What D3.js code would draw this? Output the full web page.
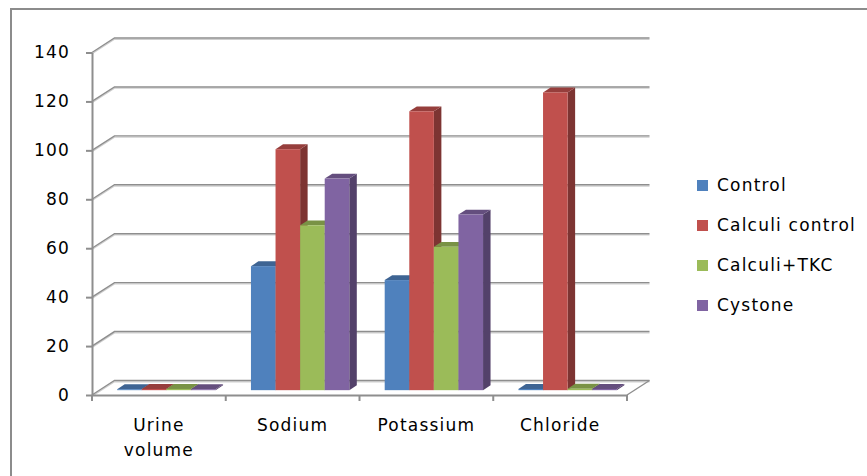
<!DOCTYPE html>
<html>
<head>
<meta charset="utf-8">
<script src="https://cdn.jsdelivr.net/npm/d3@7"></script>
<style>
  html, body { margin: 0; padding: 0; background: #fff; }
  svg text { font-family: "DejaVu Sans", Verdana, sans-serif; fill: #000; }
</style>
</head>
<body>
<svg id="chart" width="867" height="476"></svg>
<script>
// Urinary electrolytes by treatment group
const categories = ["Urine volume", "Sodium", "Potassium", "Chloride"];
const seriesNames = ["Control", "Calculi control", "Calculi+TKC", "Cystone"];
const control        = [0.4, 50.7, 45.0, 0.5];
const calculiControl = [0.5, 98.5, 114.0, 121.7];
const calculiTKC     = [0.5, 67.4, 58.6, 0.6];
const cystone        = [0.4, 86.5, 71.8, 0.5];
const yTicks = [0, 20, 40, 60, 80, 100, 120, 140];
const colors = ["#4F81BD", "#C0504D", "#9BBB59", "#8064A2"];

const seriesValues = [control, calculiControl, calculiTKC, cystone];

const svg = d3.select("#chart");

// oblique depth of the plot box
const depth = { dx: 22.5, dy: -14.5 };

const x = d3.scaleBand().domain(categories).range([92, 627]).padding(0);
const y = d3.scaleLinear().domain([0, 140]).range([395, 52.5]);
const inner = d3.scaleBand().domain(seriesNames)
  .range([0, x.bandwidth()]).paddingOuter(0.72).paddingInner(0);

// outer frame (left and top edges)
svg.append("path")
  .attr("d", "M11,476 L11,9 L867,9")
  .attr("fill", "none").attr("stroke", "#8c8c8c").attr("stroke-width", 2);

// gridlines: side-wall diagonal then back wall
const grid = svg.append("g");
yTicks.forEach(t => {
  const y0 = y(t);
  const d = `M${x.range()[0]},${y0} L${x.range()[0] + depth.dx},${y0 + depth.dy} L${x.range()[1] + depth.dx},${y0 + depth.dy}`;
  grid.append("path").attr("d", d).attr("transform", "translate(0,1.3)")
    .attr("fill", "none").attr("stroke", "#cfcfcf").attr("stroke-width", 1.2);
  grid.append("path").attr("d", d)
    .attr("fill", "none").attr("stroke", "#8e8e8e").attr("stroke-width", 1.4);
});
// right edge of floor
grid.append("path")
  .attr("d", `M${x.range()[1]},${y(0)} L${x.range()[1] + depth.dx},${y(0) + depth.dy}`)
  .attr("fill", "none").attr("stroke", "#8e8e8e").attr("stroke-width", 1.4);

// bars: placed in the middle third of the depth
const f0 = { dx: depth.dx / 3, dy: depth.dy / 3 };
const bars = svg.append("g");
categories.forEach((cat, ci) => {
  seriesNames.forEach((s, si) => {
    const v = seriesValues[si][ci];
    const c = d3.color(colors[si]);
    const x0 = x(cat) + inner(s) + f0.dx;
    const x1 = x0 + inner.bandwidth();
    const yb = y(0) + f0.dy;
    const yt = y(v) + f0.dy;
    const ox = f0.dx, oy = f0.dy;
    // side face
    bars.append("path")
      .attr("d", `M${x1},${yt} L${x1 + ox},${yt + oy} L${x1 + ox},${yb + oy} L${x1},${yb} Z`)
      .attr("fill", c.darker(1.2).formatHex());
    // top face
    bars.append("path")
      .attr("d", `M${x0},${yt} L${x0 + ox},${yt + oy} L${x1 + ox},${yt + oy} L${x1},${yt} Z`)
      .attr("fill", c.darker(0.7).formatHex());
    // front face
    bars.append("rect")
      .attr("x", x0).attr("y", yt)
      .attr("width", inner.bandwidth()).attr("height", Math.max(0, yb - yt))
      .attr("fill", c.formatHex());
  });
});

// y axis
const yAxis = svg.append("g")
  .attr("transform", `translate(${x.range()[0]},0)`)
  .call(d3.axisLeft(y).tickValues(yTicks).tickSize(6).tickPadding(16).tickSizeOuter(0));
yAxis.select(".domain").attr("stroke", "#8e8e8e").attr("stroke-width", 2);
yAxis.selectAll(".tick line").attr("stroke", "#8e8e8e").attr("stroke-width", 2);
yAxis.selectAll(".tick text")
  .style("font-size", "17px").style("letter-spacing", "1.2px")
  .attr("fill", "#000");

// x axis (front edge of floor)
const xAxis = svg.append("g")
  .attr("transform", `translate(0,${y(0)})`)
  .call(d3.axisBottom(x).tickSize(0).tickFormat(""));
xAxis.select(".domain").attr("stroke", "#8e8e8e").attr("stroke-width", 2);
const xTickPos = categories.map(c => x(c)).concat([x.range()[1]]);
xAxis.selectAll(".catTick").data(xTickPos).join("line")
  .attr("x1", d => d).attr("x2", d => d).attr("y1", 0).attr("y2", 6)
  .attr("stroke", "#8e8e8e").attr("stroke-width", 2);

// category labels (wrapped)
const labels = {
  "Urine volume": ["Urine", "volume"],
  "Sodium": ["Sodium"],
  "Potassium": ["Potassium"],
  "Chloride": ["Chloride"]
};
categories.forEach(cat => {
  const t = svg.append("text")
    .attr("x", x(cat) + x.bandwidth() / 2)
    .attr("y", 431)
    .attr("text-anchor", "middle")
    .style("font-size", "17px").style("letter-spacing", "1.2px");
  labels[cat].forEach((line, i) => {
    t.append("tspan").attr("x", x(cat) + x.bandwidth() / 2)
      .attr("dy", i === 0 ? 0 : 25).text(line);
  });
});

// legend
const legend = svg.append("g").attr("transform", "translate(697,185)");
seriesNames.forEach((s, i) => {
  const g = legend.append("g").attr("transform", `translate(0,${i * 40})`);
  g.append("rect").attr("x", 0).attr("y", -5).attr("width", 11).attr("height", 11)
    .attr("fill", colors[i]);
  g.append("text").attr("x", 20).attr("y", 0).attr("dy", "0.36em")
    .style("font-size", "17px").style("letter-spacing", "1.2px")
    .text(s);
});
</script>
</body>
</html>
